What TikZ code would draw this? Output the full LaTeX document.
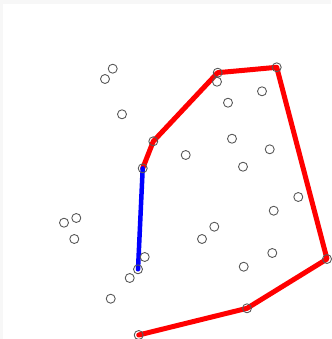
\documentclass[tikz,border=0pt]{standalone}
\begin{document}
\begin{tikzpicture}[x=1pt,y=-1pt,line cap=round,line join=round]
  \tikzset{pt/.style={circle,draw=black!65,line width=.9pt,inner sep=0pt,minimum size=9pt},
    hull/.style={red,line width=5pt},
    probe/.style={blue,line width=4.5pt}}
  \useasboundingbox (0,0) rectangle (331,339);
  \fill[black!3] (0,0) rectangle (331,4); \fill[black!3] (0,0) rectangle (3,339);
  % hull vertices
  \coordinate (h1) at (138.7,335); \coordinate (h2) at (247,308.3); \coordinate (h3) at (327,259);
  \coordinate (h4) at (276.7,67.3); \coordinate (h5) at (217.7,72.7); \coordinate (h6) at (153.3,141.3);
  \coordinate (h7) at (142.7,168.3); \coordinate (b1) at (138,269.3);
  \draw[hull] (h1)--(h2)--(h3)--(h4)--(h5)--(h6)--(h7);
  \draw[probe] (h7)--(b1);
  % points
  \foreach \n in {h1,h2,h3,h4,h5,h6,h7,b1} \node[pt] at (\n) {};
  \node[pt] (p1) at (112.7,68.7) {}; \node[pt] (p2) at (105,79) {}; \node[pt] (p3) at (122,114.3) {};
  \node[pt] (p4) at (217,81.7) {}; \node[pt] (p5) at (262,91.3) {}; \node[pt] (p6) at (228,102.7) {};
  \node[pt] (p7) at (232,138.7) {}; \node[pt] (p8) at (269.7,149.3) {}; \node[pt] (p9) at (185.7,155) {};
  \node[pt] (p10) at (243,166.7) {}; \node[pt] (p11) at (76.3,218) {}; \node[pt] (p12) at (64,222.7) {};
  \node[pt] (p13) at (74.3,239) {}; \node[pt] (p14) at (144.7,257) {}; \node[pt] (p15) at (129.7,278) {};
  \node[pt] (p16) at (110.7,298.7) {}; \node[pt] (p17) at (298.3,197) {}; \node[pt] (p18) at (273.7,210.7) {};
  \node[pt] (p19) at (214.3,226.7) {}; \node[pt] (p20) at (202,239) {}; \node[pt] (p21) at (272.3,253) {};
  \node[pt] (p22) at (243.7,266.7) {};
\end{tikzpicture}
\end{document}
